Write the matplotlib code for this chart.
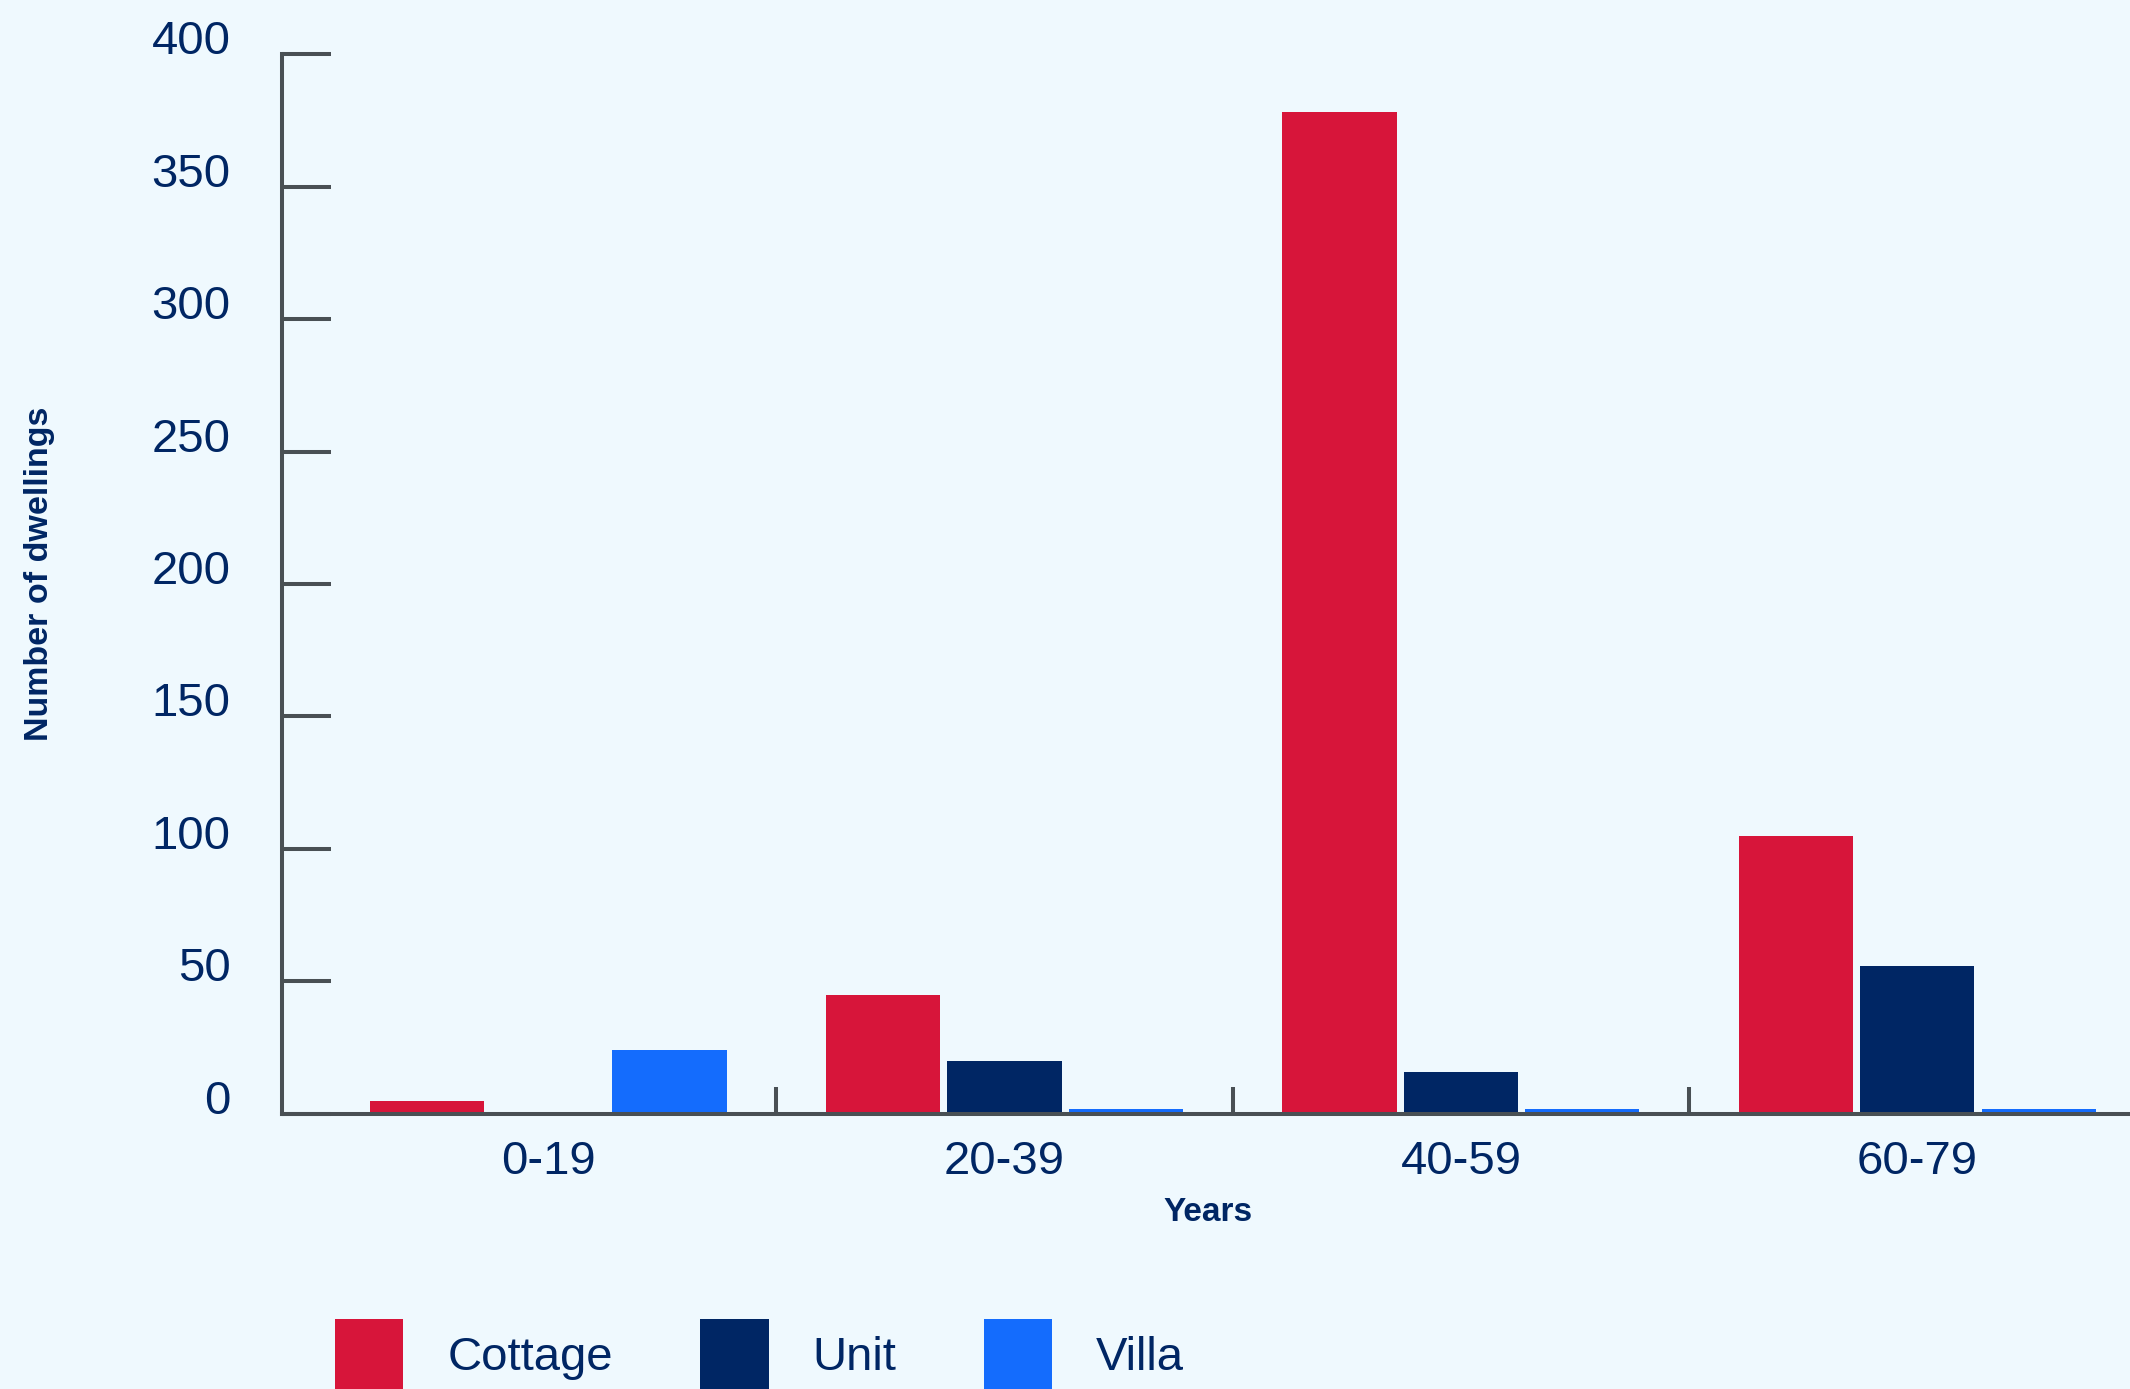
import matplotlib
matplotlib.use('Agg')
import matplotlib.pyplot as plt
import numpy as np

categories = ['0-19', '20-39', '40-59', '60-79']
cottage = [5, 45, 378, 105]
unit = [0, 20, 16, 56]
villa = [24, 2, 2, 2]
series = ['Cottage', 'Unit', 'Villa']
yticks = [0, 50, 100, 150, 200, 250, 300, 350, 400]

bg = '#eff9fe'
navy = '#002664'
axis_col = '#495054'
colors = ['#d7153a', '#002664', '#146cfd']

plt.rcParams['font.family'] = ['Liberation Sans', 'DejaVu Sans']

fig = plt.figure(figsize=(21.3, 13.89), dpi=100, facecolor=bg)
ax = fig.add_axes([0.1324, 0.198, 0.8676, 0.7631])
ax.set_facecolor(bg)

x = np.arange(len(categories))
step = 0.266
width = 0.25
bars = []
for i, (name, vals) in enumerate(zip(series, [cottage, unit, villa])):
    b = ax.bar(x + (i - 1) * step, vals, width, color=colors[i], label=name, zorder=2)
    bars.append(b)

ax.set_xlim(-0.583, 3.466)
ax.set_ylim(0, 400)

for s in ['top', 'right']:
    ax.spines[s].set_visible(False)
for s in ['left', 'bottom']:
    ax.spines[s].set_color(axis_col)
    ax.spines[s].set_linewidth(2.9)
    ax.spines[s].set_zorder(3)

ax.set_yticks(yticks)
ax.tick_params(axis='y', direction='in', length=35, width=2.9, color=axis_col,
               labelsize=34, labelcolor=navy, pad=37)
for lab in ax.get_yticklabels():
    lab.set_va('baseline')

ax.set_xticks(x)
ax.set_xticklabels(categories)
ax.tick_params(axis='x', which='major', length=0, labelsize=34, labelcolor=navy, pad=19)
ax.set_xticks(x[:-1] + 0.5, minor=True)
ax.tick_params(axis='x', which='minor', direction='in', length=19.5, width=2.9, color=axis_col)

ax.set_xlabel('Years', fontsize=24, fontweight='bold', color=navy, va='center')
ax.xaxis.set_label_coords(0.501, -0.0934)
ax.set_ylabel('Number of dwellings', fontsize=24.5, fontweight='bold', color=navy, va='center')
ax.yaxis.set_label_coords(-0.131, 0.51)

fig.legend(handles=bars, labels=series, loc='center left',
           bbox_to_anchor=(335 / 2130, 1 - 1355 / 1389), ncol=3, frameon=False,
           fontsize=34, labelcolor=navy, handlelength=1.45, handleheight=1.95,
           handletextpad=0.93, columnspacing=1.85, borderpad=0, borderaxespad=0)

fig.savefig('out.png', dpi=100, facecolor=bg)
